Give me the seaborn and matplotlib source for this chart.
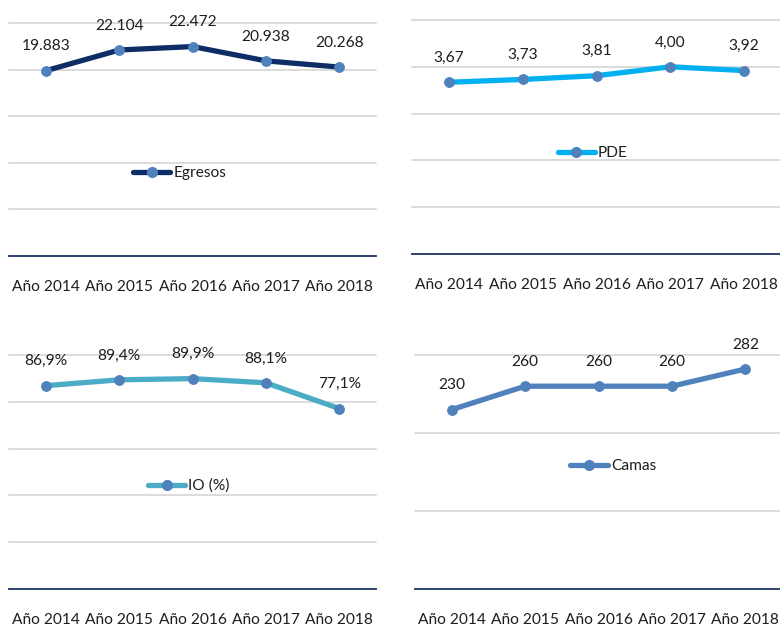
import matplotlib
matplotlib.use("Agg")
import matplotlib.pyplot as plt
import seaborn as sns
import pandas as pd
from matplotlib.lines import Line2D

sns.set_theme(style="white")
plt.rcParams["font.family"] = ["Lato", "DejaVu Sans"]

years = ["Año 2014", "Año 2015", "Año 2016", "Año 2017", "Año 2018"]

egresos = [19883, 22104, 22472, 20938, 20268]
egresos_labels = ["19.883", "22.104", "22.472", "20.938", "20.268"]

pde = [3.67, 3.73, 3.81, 4.00, 3.92]
pde_labels = ["3,67", "3,73", "3,81", "4,00", "3,92"]

io_pct = [86.9, 89.4, 89.9, 88.1, 77.1]
io_labels = ["86,9%", "89,4%", "89,9%", "88,1%", "77,1%"]

camas = [230, 260, 260, 260, 282]
camas_labels = ["230", "260", "260", "260", "282"]

MARKER = "#4F81BD"
TEXT = "#1E1E1E"
GRID = "#D9D9D9"
AXIS = "#1F3864"
FS = 11.2

fig = plt.figure(figsize=(7.8, 6.28), dpi=100)

panels = [
    # values, labels, legend name, line colour, y max, y step, axes rect, legend anchor
    (egresos, egresos_labels, "Egresos", "#0E2C66", 25000, 5000,
     [9.3 / 780, 1 - 256 / 628, 366.7 / 780, 233 / 628], (0.465, 0.355)),
    (pde, pde_labels, "PDE", "#00B0F0", 5, 1,
     [412 / 780, 1 - 254 / 628, 369 / 780, 234 / 628], (0.49, 0.43)),
    (io_pct, io_labels, "IO (%)", "#4BACC6", 100, 20,
     [9.3 / 780, 1 - 589 / 628, 366.7 / 780, 234 / 628], (0.49, 0.44)),
    (camas, camas_labels, "Camas", "#4F81BD", 300, 100,
     [415 / 780, 1 - 589 / 628, 367 / 780, 234 / 628], (0.54, 0.525)),
]

for values, labels, name, color, ymax, ystep, rect, leg_anchor in panels:
    ax = fig.add_axes(rect)
    df = pd.DataFrame({"year": years, "value": values})
    sns.lineplot(data=df, x="year", y="value", ax=ax, color=color, linewidth=3.8,
                 marker="o", markersize=7, markerfacecolor=MARKER,
                 markeredgecolor=MARKER, sort=False, zorder=3)
    ax.set_xlim(-0.5, len(years) - 0.5)
    ax.set_ylim(0, ymax)
    ax.set_yticks([ystep * i for i in range(int(round(ymax / ystep)) + 1)])
    ax.set_yticklabels([])
    ax.grid(axis="y", color=GRID, linewidth=1.3)
    ax.grid(axis="x", visible=False)
    for g in ax.get_ygridlines():
        g.set_clip_on(False)
    ax.set_xlabel("")
    ax.set_ylabel("")
    for s in ["top", "left", "right"]:
        ax.spines[s].set_visible(False)
    ax.spines["bottom"].set_color(AXIS)
    ax.spines["bottom"].set_linewidth(1.3)
    ax.spines["bottom"].set_zorder(4)
    ax.tick_params(axis="x", length=0, pad=17, labelsize=FS, labelcolor=TEXT)
    ax.tick_params(axis="y", length=0)
    for i, (v, t) in enumerate(zip(values, labels)):
        ax.annotate(t, (i, v), xytext=(0, 17.5), textcoords="offset points",
                    ha="center", va="center", fontsize=FS, color=TEXT)
    handle = Line2D([], [], color=color, linewidth=3.8, marker="o", markersize=7,
                    markerfacecolor=MARKER, markeredgecolor=MARKER)
    ax.legend([handle], [name], loc="center", bbox_to_anchor=leg_anchor,
              frameon=False, fontsize=FS, handlelength=2.4, handletextpad=0.2,
              labelcolor=TEXT, borderpad=0)

fig.savefig("out.png", dpi=100, facecolor="white")
